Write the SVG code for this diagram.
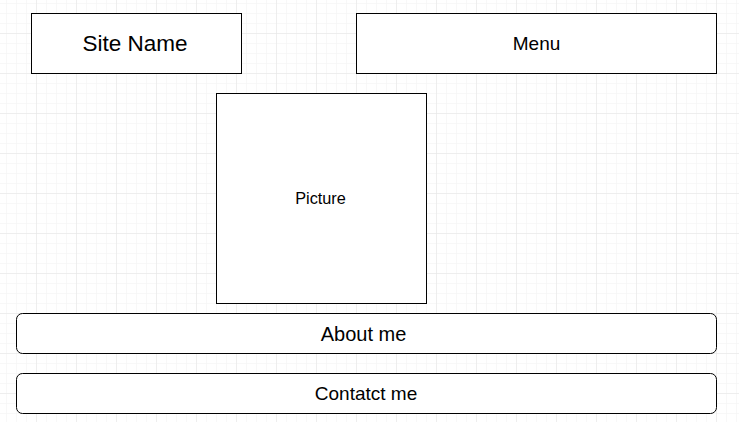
<svg xmlns="http://www.w3.org/2000/svg" width="739" height="422" viewBox="0 0 739 422">
<defs>
<pattern id="minor" x="6" y="3" width="10" height="10" patternUnits="userSpaceOnUse">
<path d="M0 0H10M0 0V10" fill="none" stroke="#f2f2f2" stroke-width="1"/>
</pattern>
<pattern id="major" x="-4" y="-7" width="40" height="40" patternUnits="userSpaceOnUse">
<path d="M0 0H40M0 0V40" fill="none" stroke="#e3e3e3" stroke-width="1"/>
</pattern>
</defs>
<style>
.box{fill:#fff;stroke:#000;stroke-width:1}
.t{font-family:"Liberation Sans",Arial,sans-serif;fill:#000;text-anchor:middle;dominant-baseline:central}
</style>
<rect width="739" height="422" fill="#fff"/>
<rect width="739" height="422" fill="url(#minor)"/>
<rect width="739" height="422" fill="url(#major)"/>
<g id="connectors"/>
<g id="site-name">
<rect class="box" x="31.5" y="13.5" width="210" height="60"/>
<text class="t" x="135" y="43.5" font-size="22.5">Site Name</text>
</g>
<g id="menu">
<rect class="box" x="356.5" y="13.5" width="360" height="60"/>
<text class="t" x="536.5" y="43.5" font-size="19">Menu</text>
</g>
<g id="picture">
<rect class="box" x="216.5" y="93.5" width="210" height="210"/>
<text class="t" x="320.5" y="197.5" font-size="16.3">Picture</text>
</g>
<g id="about-me">
<rect class="box" x="16.5" y="313.5" width="700" height="40" rx="6" ry="6"/>
<text class="t" x="363.5" y="333.5" font-size="20">About me</text>
</g>
<g id="contact-me">
<rect class="box" x="16.5" y="373.5" width="700" height="40" rx="6" ry="6"/>
<text class="t" x="366" y="393" font-size="19">Contatct me</text>
</g>
</svg>
